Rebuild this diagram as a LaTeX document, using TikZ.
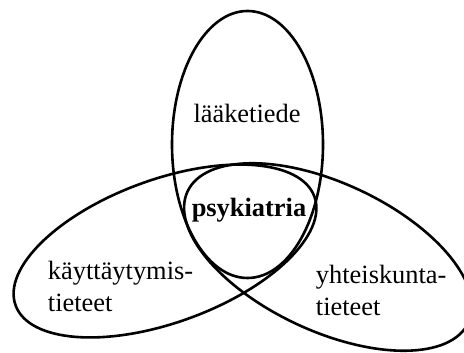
\documentclass[tikz,border=0pt]{standalone}
\usepackage{fontspec}
\setmainfont{Liberation Serif}
\tikzset{
  field/.style={font=\fontsize{13.2}{16}\selectfont},
  core/.style={font=\fontsize{13.2}{16}\selectfont\bfseries}
}
\begin{document}
\begin{tikzpicture}[x=0.5pt,y=0.5pt,line width=1.3pt]
  \useasboundingbox (0,0) rectangle (464,352);
  \draw (247.5,207.5) ellipse [x radius=75.5, y radius=133.5];
  \draw[rotate around={20:(165,101)}] (165,101) ellipse [x radius=159, y radius=71.5];
  \draw[rotate around={-25:(328,95)}] (328,95) ellipse [x radius=155, y radius=74];
  \node[field, anchor=base] (laake) at (247,229) {lääketiede};
  \node[core, anchor=base] (psyk) at (249,135) {psykiatria};
  \node[field, anchor=west, align=left] (kayt) at (40,66) {käyttäytymis-\\tieteet};
  \node[field, anchor=west, align=left] (yht) at (308,62) {yhteiskunta-\\tieteet};
\end{tikzpicture}
\end{document}
